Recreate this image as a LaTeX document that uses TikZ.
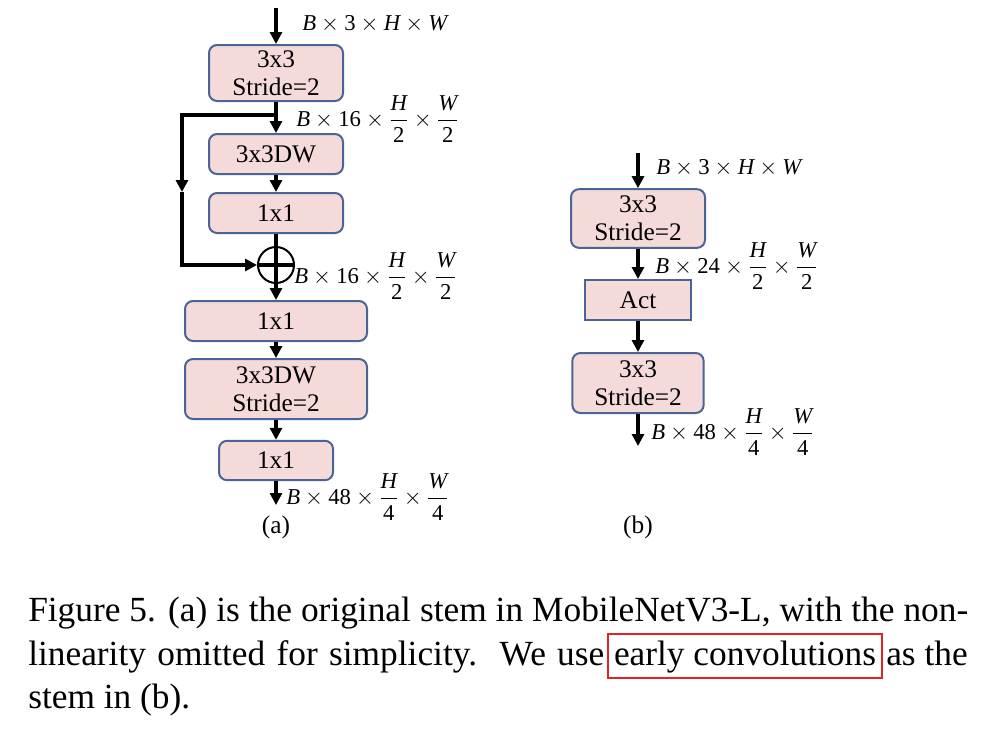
\documentclass[tikz,border=0pt]{standalone}
\usepackage{amsmath}
\usepackage{fontspec}
\setmainfont{Liberation Serif}
\usetikzlibrary{arrows.meta}
\definecolor{boxpink}{HTML}{F5DADA}
\definecolor{boxblue}{HTML}{4A6496}
\definecolor{capred}{HTML}{E32226}
\newcommand{\mB}{\mathit{B}}
\newcommand{\mH}{\mathit{H}}
\newcommand{\mW}{\mathit{W}}
\newcommand{\md}[1]{\mathrm{#1}}
\tikzset{
  blk/.style={draw=boxblue, fill=boxpink, line width=1.5pt, rounded corners=6pt,
    align=center, inner sep=0pt, font=\fontsize{19}{21}\selectfont},
  sqblk/.style={blk, rounded corners=0pt},
  arr/.style={line width=2.4pt, -{Triangle[length=9pt,width=9pt]}},
  ln/.style={line width=2.4pt},
  dimlbl/.style={anchor=west, inner sep=0pt, font=\fontsize{17}{20}\selectfont},
  sublbl/.style={font=\fontsize{19}{21}\selectfont, inner sep=0pt},
  captxt/.style={inner sep=0pt, font=\fontsize{26.5}{32}\selectfont},
}
\begin{document}
\begin{tikzpicture}[x=0.75pt,y=-0.75pt]
\useasboundingbox (0,0) rectangle (997,744);
% ---------------- (a) ----------------
\node[blk, minimum width=100.5pt, minimum height=42pt] (a1) at (276,73) {3x3\\Stride=2};
\node[blk, minimum width=100.5pt, minimum height=30pt] (a2) at (276,154) {3x3DW};
\node[blk, minimum width=100.5pt, minimum height=30pt] (a3) at (276,213) {1x1};
\node[circle, draw, line width=1.5pt, minimum size=27pt, inner sep=0pt] (add) at (276,265) {};
\node[blk, minimum width=136.5pt, minimum height=30pt] (a4) at (276,321) {1x1};
\node[blk, minimum width=136.5pt, minimum height=45pt] (a5) at (276,389) {3x3DW\\Stride=2};
\node[blk, minimum width=85.5pt, minimum height=29.5pt] (a6) at (276,460.5) {1x1};
\coordinate (a0) at (276,8);
\coordinate (aend) at (276,505);
\coordinate (split) at (276,115);
\coordinate (skipmid) at (182,192);
\draw[arr] (a0) -- (a1.north);
\draw[ln] (a1.south) -- (split);
\draw[arr] (split) -- (a2.north);
\draw[arr] (a2.south) -- (a3.north);
\draw[ln] (a3.south) -- (add.north);
\draw[ln] (add.north) -- (add.south);
\draw[ln] (add.west) -- (add.east);
\draw[arr] (split) -| (skipmid);
\draw[arr] (skipmid) |- (add.west);
\draw[arr] (add.south) -- (a4.north);
\draw[arr] (a4.south) -- (a5.north);
\draw[arr] (a5.south) -- (a6.north);
\draw[arr] (a6.south) -- (aend);
\node[dimlbl] (la1) at (302,24) {$\mB\times \md{3}\times \mH\times \mW$};
\node[dimlbl] (la2) at (296,119) {$\mB\times \md{16}\times \dfrac{\mH}{\md{2}}\times\dfrac{\mW}{\md{2}}$};
\node[dimlbl] (la3) at (294,276) {$\mB\times \md{16}\times \dfrac{\mH}{\md{2}}\times\dfrac{\mW}{\md{2}}$};
\node[dimlbl] (la4) at (286,497) {$\mB\times \md{48}\times \dfrac{\mH}{\md{4}}\times\dfrac{\mW}{\md{4}}$};
\node[sublbl] (capa) at (276,527) {(a)};
% ---------------- (b) ----------------
\node[blk, minimum width=100.5pt, minimum height=44pt] (b1) at (638,218.5) {3x3\\Stride=2};
\node[sqblk, minimum width=79.5pt, minimum height=30pt] (b2) at (638,300) {Act};
\node[blk, minimum width=98.5pt, minimum height=45pt] (b3) at (638,383) {3x3\\Stride=2};
\coordinate (b0) at (638,153);
\coordinate (bend) at (638,446);
\draw[arr] (b0) -- (b1.north);
\draw[arr] (b1.south) -- (b2.north);
\draw[arr] (b2.south) -- (b3.north);
\draw[arr] (b3.south) -- (bend);
\node[dimlbl] (lb1) at (656,168) {$\mB\times \md{3}\times \mH\times \mW$};
\node[dimlbl] (lb2) at (655,266) {$\mB\times \md{24}\times \dfrac{\mH}{\md{2}}\times\dfrac{\mW}{\md{2}}$};
\node[dimlbl] (lb3) at (651,432) {$\mB\times \md{48}\times \dfrac{\mH}{\md{4}}\times\dfrac{\mW}{\md{4}}$};
\node[sublbl] (capb) at (638,527) {(b)};
% ---------------- caption ----------------
\node[captxt, anchor=base west] (c1) at (28,621) {\makebox[705pt][s]{Figure 5. (a) is the original stem in MobileNetV3-L, with the non-}};
\node[captxt, anchor=base west] (c2a) at (28,665) {\makebox[432pt][s]{linearity omitted for simplicity.\ \ We use}};
\node[captxt, draw=capred, line width=1.6pt, inner xsep=4.5pt, inner ysep=4pt, text height=19pt, text depth=6pt, anchor=base] (c2b) at (745,665) {early convolutions};
\node[captxt, anchor=base east] (c2c) at (968,665) {as the};
\node[captxt, anchor=base west] (c3) at (28,708) {stem in (b).};
\end{tikzpicture}
\end{document}
